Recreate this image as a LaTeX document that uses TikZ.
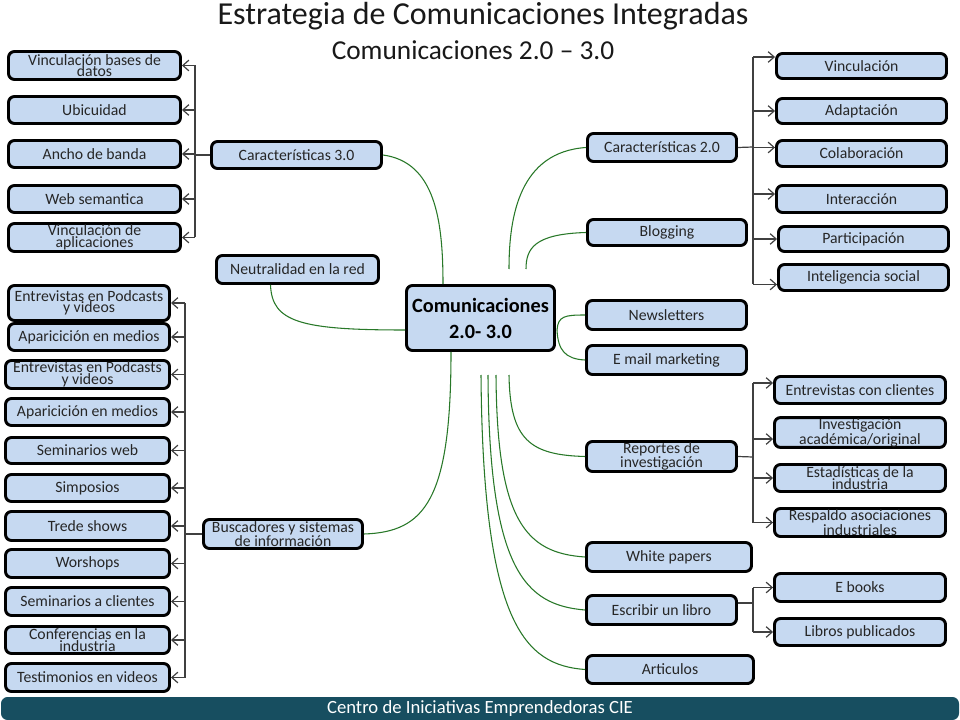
\documentclass[tikz,border=0pt]{standalone}
\usepackage{fontspec}
\setmainfont{Carlito}
\usetikzlibrary{arrows.meta,calc}
\definecolor{boxblue}{RGB}{198,217,241}
\definecolor{lnk}{RGB}{40,120,40}
\definecolor{barcol}{RGB}{23,78,96}
\tikzset{
  box/.style={draw=black, line width=2.2pt, fill=boxblue, rounded corners=4.5pt, inner sep=0.5pt, align=center, font=\fontsize{11.8}{8.6}\selectfont, text=black!85},
  gl/.style={draw=lnk, line width=0.8pt},
  br/.style={draw=black!75, line width=0.9pt},
  ar/.style={br, -{Straight Barb[length=4.5pt,width=8pt]}},
}
\newcommand\mkbox[6]{\node[box, minimum width={(#4-#2-3)*0.75pt}, minimum height={(#5-#3-3)*0.75pt}] (#1) at ({(#2+#4)/2},{(#3+#5)/2}) {#6};}
\begin{document}
\begin{tikzpicture}[x=0.75pt,y=-0.75pt]
\fill[white] (0,0) rectangle (960,720);
\useasboundingbox (0,0) rectangle (960,720);
% titles
\node[font=\fontsize{24}{28}\selectfont, text=black!90] (title) at (483,16) {Estrategia de Comunicaciones Integradas};
\node[font=\fontsize{20.5}{24}\selectfont, text=black!90] (sub) at (473,50) {Comunicaciones 2.0 – 3.0};
% left top
\mkbox{L1a}{7}{50}{182}{81}{Vinculación bases de\\datos}
\mkbox{L1b}{7}{95}{182}{125}{Ubicuidad}
\mkbox{L1c}{7}{139}{182}{169}{Ancho de banda}
\mkbox{L1d}{7}{184}{182}{214}{Web semantica}
\mkbox{L1e}{7}{222}{182}{253}{Vinculación de\\aplicaciones}
\mkbox{c3}{210}{140}{383}{170}{Características 3.0}
\mkbox{neu}{215}{254}{380}{285}{Neutralidad en la red}
% left bottom
\mkbox{L2a}{7}{284}{171}{322}{Entrevistas en Podcasts\\y videos}
\mkbox{L2b}{7}{322}{171}{352}{Aparicición en medios}
\mkbox{L2c}{4}{359}{171}{390}{Entrevistas en Podcasts\\y videos}
\mkbox{L2d}{4}{397}{171}{427}{Aparicición en medios}
\mkbox{L2e}{4}{436}{171}{465}{Seminarios web}
\mkbox{L2f}{4}{473}{171}{503}{Simposios}
\mkbox{L2g}{4}{510}{171}{542}{Trede shows}
\mkbox{L2h}{4}{548}{171}{579}{Worshops}
\mkbox{L2i}{4}{586}{171}{617}{Seminarios a clientes}
\mkbox{L2j}{4}{625}{171}{655}{Conferencias en la\\industria}
\mkbox{L2k}{4}{662}{171}{693}{Testimonios en videos}
\mkbox{bus}{202}{518}{364}{550}{Buscadores y sistemas\\de información}
% center
\node[box, minimum width={148*0.75pt}, minimum height={65*0.75pt}, font=\fontsize{15.2}{19.5}\selectfont\bfseries, text=black] (cen) at (480.5,318) {Comunicaciones\\2.0- 3.0};
% right
\mkbox{c2}{586}{132}{738}{163}{Características 2.0}
\mkbox{blog}{586}{218}{748}{247}{Blogging}
\mkbox{news}{585}{299}{748}{331}{Newsletters}
\mkbox{mail}{585}{344}{748}{376}{E mail marketing}
\mkbox{R1a}{775}{52}{948}{80}{Vinculación}
\mkbox{R1b}{775}{97}{948}{125}{Adaptación}
\mkbox{R1c}{775}{139}{948}{168}{Colaboración}
\mkbox{R1d}{775}{184}{948}{214}{Interacción}
\mkbox{R1e}{777}{225}{950}{253}{Participación}
\mkbox{R1f}{777}{263}{950}{292}{Inteligencia social}
\mkbox{rep}{585}{440}{738}{473}{Reportes de\\investigación}
\mkbox{R2a}{773}{375}{947}{405}{Entrevistas con clientes}
\mkbox{R2b}{773}{417}{947}{448}{Investigación\\académica/original}
\mkbox{R2c}{773}{463}{947}{493}{Estadísticas de la\\industria}
\mkbox{R2d}{773}{507}{947}{538}{Respaldo asociaciones\\industriales}
\mkbox{wp}{585}{541}{753}{573}{White papers}
\mkbox{lib}{585}{594}{738}{626}{Escribir un libro}
\mkbox{eb}{773}{572}{947}{603}{E books}
\mkbox{lp}{773}{617}{947}{647}{Libros publicados}
\mkbox{art}{585}{654}{755}{685}{Articulos}
% footer
\node[fill=barcol, rounded corners=5pt, minimum width={958*0.75pt}, minimum height={23*0.75pt}, inner sep=0pt, text=white, font=\fontsize{14}{16}\selectfont] (foot) at (480,708.5) {Centro de Iniciativas Emprendedoras CIE};
% bracket left top
\coordinate (j3) at (195,155);
\draw[br] (c3.west) -- (j3);
\draw[br] (j3 |- L1a.east) -- (j3 |- L1e.east);
\foreach \n in {L1a,L1b,L1c,L1d,L1e} \draw[ar] (j3 |- \n.east) -- (\n.east);
% bracket left bottom
\coordinate (jb) at (185,534);
\draw[br] (bus.west) -- (jb);
\draw[br] (jb |- L2a.east) -- (jb |- L2k.east);
\foreach \n in {L2a,L2b,L2c,L2d,L2e,L2f,L2g,L2h,L2i,L2j,L2k} \draw[ar] (jb |- \n.east) -- (\n.east);
% bracket right top
\coordinate (j2) at (753,147);
\draw[br] (c2.east) -- (j2);
\coordinate (t1) at ([yshift=6.75pt]R1a.west);
\coordinate (t2) at (R1b.west);
\coordinate (t3) at ([yshift=4.5pt]R1c.west);
\coordinate (t4) at ([yshift=3.75pt]R1d.west);
\coordinate (t5) at (R1e.west);
\coordinate (t6) at ([yshift=-5.25pt]R1f.west);
\draw[br] (j2 |- t1) -- (j2 |- t6);
\foreach \n in {t1,t2,t3,t4,t5,t6} \draw[ar] (j2 |- \n) -- (\n);
% bracket right middle
\coordinate (jr) at (753,457);
\draw[br] (rep.east) -- (jr);
\coordinate (u1) at ([yshift=5.25pt]R2a.west);
\coordinate (u2) at ([yshift=-4.9pt]R2b.west);
\coordinate (u3) at (R2c.west);
\coordinate (u4) at (R2d.west);
\draw[br] (jr |- u1) -- (jr |- u4);
\foreach \n in {u1,u2,u3,u4} \draw[ar] (jr |- \n) -- (\n);
% bracket libro
\coordinate (jl) at (753,603);
\coordinate (lo) at ([yshift=5.25pt]lib.east);
\draw[br] (lo) -- (lo -| jl);
\draw[br] (jl |- eb.west) -- (jl |- lp.west);
\foreach \n in {eb,lp} \draw[ar] (jl |- \n.west) -- (\n.west);
% green links
\draw[gl] (c3.east) .. controls (435,162) and (443,220) .. ($(cen.north)+(-37.5,0)$);
\coordinate (e2) at (509,269);
\coordinate (e3) at (526,269);
\draw[gl] (c2.west) .. controls (520,152) and (509,215) .. (e2);
\draw[gl] (blog.west) .. controls (535,234) and (526,248) .. (e3);
\coordinate (ce) at (557,330);
\draw[gl] (ce) .. controls (558,316) and (565,315) .. (news.west);
\draw[gl] (ce) .. controls (558,350) and (565,359) .. (mail.west);
\draw[gl] ($(neu.south)+(-27,0)$) .. controls (272,322) and (300,330) .. ($(cen.west)+(0,12)$);
\draw[gl] ($(cen.south)+(-29.5,0)$) .. controls (451,500) and (425,532) .. (bus.east);
\coordinate (s1) at (481,375);
\coordinate (s2) at (488,375);
\coordinate (s3) at (496,375);
\coordinate (s4) at (509,375);
\draw[gl] (s4) .. controls (510,440) and (530,455) .. (rep.west);
\draw[gl] (s3) .. controls (497,520) and (525,553) .. (wp.west);
\draw[gl] (s2) .. controls (489,570) and (525,605) .. (lib.west);
\draw[gl] (s1) .. controls (483,625) and (525,665) .. (art.west);
\end{tikzpicture}
\end{document}
